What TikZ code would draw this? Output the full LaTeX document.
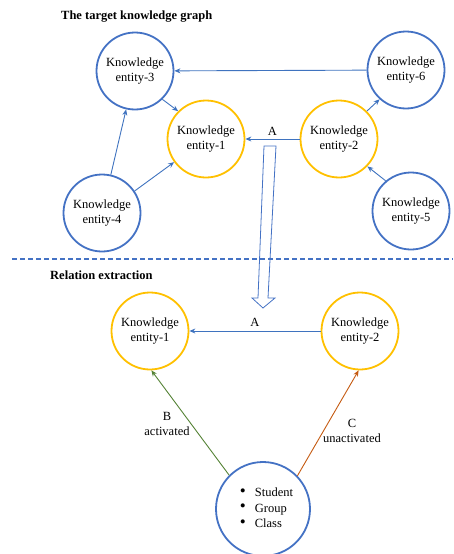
\documentclass[tikz,border=0pt]{standalone}
\usepackage{fontspec}
\setmainfont{Liberation Serif}
\usetikzlibrary{arrows.meta}
\definecolor{cblue}{HTML}{4472C4}
\definecolor{cline}{HTML}{3F73BF}
\definecolor{cyel}{HTML}{FFC000}
\definecolor{cgreen}{HTML}{548235}
\definecolor{corange}{HTML}{C55A11}
\tikzset{
  ent/.style={circle, draw=cblue, line width=1.8pt, minimum size=77pt, inner sep=0pt, align=center, font=\fontsize{12.5}{15}\selectfont},
  yent/.style={ent, draw=cyel},
  arr/.style={-{Stealth[length=6pt,width=5pt]}, draw=cline, line width=0.9pt},
  lbl/.style={font=\fontsize{12.5}{15}\selectfont, align=center, inner sep=0pt},
  ttl/.style={font=\fontsize{12.5}{15}\selectfont\bfseries, anchor=west, inner sep=0pt},
}
\newcommand{\bigbul}{\raisebox{0.5pt}{\fontsize{17}{15}\selectfont\textbullet}}
\begin{document}
\begin{tikzpicture}[x=1pt,y=-1pt]
\useasboundingbox (0,0) rectangle (453,554);
\node[ttl] (t1) at (61,17) {The target knowledge graph};
\node[ttl] (t2) at (50,275) {Relation extraction};

\node[ent] (e3) at (135,71) {Knowledge\\entity-3};
\node[yent] (e1) at (206,139) {Knowledge\\entity-1};
\node[yent] (e2) at (339,139) {Knowledge\\entity-2};
\node[ent] (e6) at (406,70) {Knowledge\\entity-6};
\node[ent] (e4) at (102,213) {Knowledge\\entity-4};
\node[ent] (e5) at (411,211) {Knowledge\\entity-5};

\draw[arr] (e6) -- (e3);
\draw[arr] (e3.314) -- (e1.135);
\draw[arr] (e4.77) -- (e3.257);
\draw[arr] (e4.34) -- (e1.216);
\draw[arr] (e2) -- node[lbl, above=3pt] (la) {A} (e1);
\draw[arr] (e2.45) -- (e6.228);
\draw[arr] (e5.130) -- (e2.316);

\draw[cblue, line width=1.2pt, dash pattern=on 5pt off 3pt] (12,259) coordinate (d1) -- (453,259) coordinate (d2);

\draw[cblue, line width=0.8pt] (264,146) -- (276,146) -- (268,298) -- (275,298) -- (263,308) -- (252,298) -- (258,298) -- cycle;

\node[yent] (b1) at (150,331) {Knowledge\\entity-1};
\node[yent] (b2) at (360,331) {Knowledge\\entity-2};
\node[ent, minimum size=94pt] (s) at (263,509) {%
  \hspace{7pt}\begin{tabular}{@{}l@{\hspace{9pt}}l@{}}
  \bigbul & Student\\[0.5pt]
  \bigbul & Group\\[0.5pt]
  \bigbul & Class
  \end{tabular}};

\draw[arr] (b2) -- node[lbl, above=4pt] (lb) {A} (b1);
\draw[arr, draw=cgreen] (s.135) -- (b1.272);
\draw[arr, draw=corange] (s.44) -- (b2.268);
\node[lbl] (lB) at (167,424) {B\\activated};
\node[lbl] (lC) at (352,431) {C\\unactivated};
\end{tikzpicture}
\end{document}
